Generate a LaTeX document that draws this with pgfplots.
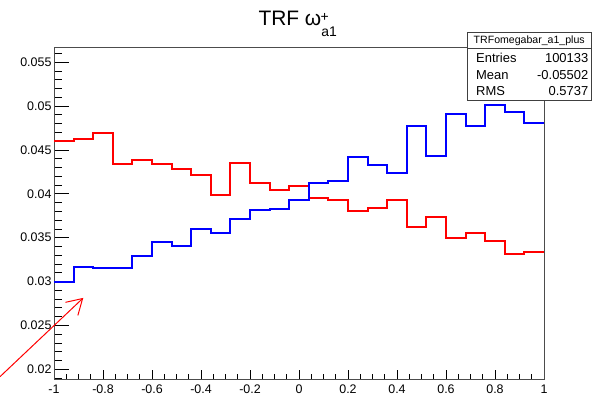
\documentclass[border=0pt]{standalone}
\usepackage{pgfplots}
\pgfplotsset{compat=1.18}
\usepackage{fontspec}
\setmainfont{Liberation Sans}
\usetikzlibrary{arrows.meta}
\begin{document}
\begin{tikzpicture}
\useasboundingbox (-54bp,-17.7bp) rectangle (541bp,379.3bp);
\begin{axis}[
  at={(0,0)}, anchor=south west,
  scale only axis, width=490bp, height=332bp,
  xmin=-1, xmax=1, ymin=0.01886, ymax=0.0567,
  axis line style={black!70, line width=0.8bp},
  tick pos=left, tick align=inside,
  scaled x ticks=false, scaled y ticks=false,
  every tick/.style={black, line width=0.8bp},
  xtick={-1,-0.8,-0.6,-0.4,-0.2,0,0.2,0.4,0.6,0.8,1},
  xticklabels={-1,-0.8,-0.6,-0.4,-0.2,0,0.2,0.4,0.6,0.8,1},
  minor x tick num=3,
  ytick={0.02,0.025,0.03,0.035,0.04,0.045,0.05,0.055},
  yticklabels={0.02,0.025,0.03,0.035,0.04,0.045,0.05,0.055},
  minor ytick={0.019,0.021,0.022,0.023,0.024,0.026,0.027,0.028,0.029,0.031,0.032,0.033,0.034,0.036,0.037,0.038,0.039,0.041,0.042,0.043,0.044,0.046,0.047,0.048,0.049,0.051,0.052,0.053,0.054,0.056},
  xtick style={/pgfplots/major tick length=9.5bp,/pgfplots/minor tick length=5bp},
  ytick style={/pgfplots/major tick length=15bp,/pgfplots/minor tick length=7.5bp},
  ticklabel style={font=\fontsize{12.5}{13}\selectfont},
  xticklabel style={yshift=-2bp},
  yticklabel style={xshift=1bp},
  clip=false,
]
\addplot[red, line width=2bp, const plot mark left] coordinates {
(-1,0.04602)(-0.92,0.04628)(-0.84,0.04689)(-0.76,0.04336)(-0.68,0.0439)(-0.6,0.04336)(-0.52,0.04288)(-0.44,0.04216)(-0.36,0.03992)(-0.28,0.04348)(-0.2,0.04128)(-0.12,0.04038)(-0.04,0.04086)(0.04,0.0395)(0.12,0.03932)(0.2,0.03807)(0.28,0.03833)(0.36,0.03927)(0.44,0.03617)(0.52,0.03739)(0.6,0.03495)(0.68,0.03557)(0.76,0.03466)(0.84,0.0331)(0.92,0.03336)(1,0.03336)};
\addplot[blue, line width=2bp, const plot mark left] coordinates {
(-1,0.02995)(-0.92,0.03163)(-0.84,0.03151)(-0.76,0.03151)(-0.68,0.03291)(-0.6,0.03447)(-0.52,0.03405)(-0.44,0.03602)(-0.36,0.03557)(-0.28,0.03716)(-0.2,0.03814)(-0.12,0.03825)(-0.04,0.03927)(0.04,0.04125)(0.12,0.04151)(0.2,0.0442)(0.28,0.0433)(0.36,0.04239)(0.44,0.04776)(0.52,0.04432)(0.6,0.04905)(0.68,0.04776)(0.76,0.05015)(0.84,0.04935)(0.92,0.0481)(1,0.0481)};
\draw[red, line width=1bp, -{Straight Barb[length=15bp,width=18bp]}] (axis cs:-1.2204,0.01916) -- (axis cs:-0.8804,0.02814);
\end{axis}
\node[anchor=base west, font=\fontsize{21}{24}\selectfont, inner sep=0pt] at (204.3bp,353.3bp)
  {TRF ω\raisebox{-10.7bp}{\fontsize{14}{14}\selectfont a1}};
\node[anchor=base west, font=\fontsize{14}{14}\selectfont, inner sep=0pt] at (266.5bp,357.5bp) {+};
\draw[black!75, line width=0.8bp, fill=white] (413.3bp,279.3bp) rectangle (537bp,347bp);
\draw[black!75, line width=0.8bp] (413.3bp,331bp) -- (537bp,331bp);
\node[font=\fontsize{10.6}{11}\selectfont, inner sep=0pt] at (475.2bp,339bp) {TRFomegabar\_a1\_plus};
\node[anchor=base west, font=\fontsize{13}{14}\selectfont, inner sep=0pt] at (422bp,316.6bp) {Entries};
\node[anchor=base east, font=\fontsize{13}{14}\selectfont, inner sep=0pt] at (534.5bp,316.6bp) {100133};
\node[anchor=base west, font=\fontsize{13}{14}\selectfont, inner sep=0pt] at (422bp,300bp) {Mean};
\node[anchor=base east, font=\fontsize{13}{14}\selectfont, inner sep=0pt] at (534.5bp,300bp) {-0.05502};
\node[anchor=base west, font=\fontsize{13}{14}\selectfont, inner sep=0pt] at (422bp,283.6bp) {RMS};
\node[anchor=base east, font=\fontsize{13}{14}\selectfont, inner sep=0pt] at (534.5bp,283.6bp) {0.5737};
\end{tikzpicture}
\end{document}
